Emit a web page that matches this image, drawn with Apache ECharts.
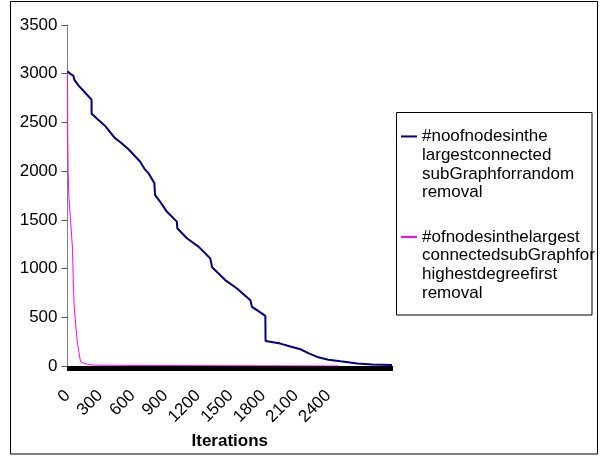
<!DOCTYPE html>
<html>
<head>
    <meta charset="utf-8">
    <title>Largest connected subgraph</title>
    <script src="https://cdn.jsdelivr.net/npm/echarts@6.0.0/dist/echarts.min.js"></script>
    <style>
        body { margin: 0; background: #fff; }
        #chart-container { width: 600px; height: 456px; }
    </style>
</head>
<body>
<div id="chart-container"></div>
<script>
    const chartDom = document.getElementById('chart-container');
    const myChart = echarts.init(chartDom);

    // values: [iteration, nodes]
    const randomRemoval = [
        [0, 3025], [30, 2995], [55, 2978], [62, 2940], [100, 2880], [150, 2820],
        [221, 2734], [222, 2590], [280, 2530], [344, 2467], [436, 2340], [500, 2285],
        [559, 2227], [667, 2099], [714, 2015], [744, 1980], [799, 1877], [805, 1757],
        [851, 1688], [913, 1585], [1006, 1482], [1010, 1414], [1098, 1311], [1205, 1225],
        [1221, 1208], [1313, 1105], [1330, 1013], [1390, 950], [1451, 882], [1559, 796],
        [1682, 676], [1697, 607], [1760, 560], [1820, 515], [1822, 257], [1958, 230],
        [2050, 200], [2143, 172], [2220, 130], [2297, 93], [2400, 65], [2512, 48],
        [2666, 25], [2800, 15], [2985, 10]
    ];
    const highestDegreeRemoval = [
        [0, 3020], [1, 2700], [3, 2300], [6, 2000], [12, 1750], [30, 1465], [46, 1208],
        [52, 916], [61, 625], [77, 401], [92, 230], [107, 128], [120, 41], [160, 25],
        [206, 12], [300, 8], [575, 6], [580, 0], [2494, 0]
    ];
    const seriesNames = [
        '#noofnodesinthe largestconnected subGraphforrandom removal',
        '#ofnodesinthelargest connectedsubGraphfor highestdegreefirst removal'
    ];
    const xLabelMax = 2400;

    const font = "'Liberation Sans', Arial, sans-serif";

    const option = {
        animation: false,
        backgroundColor: '#fff',
        grid: { left: 67.5, right: 208, top: 25, bottom: 90 },
        xAxis: {
            type: 'value',
            min: 0,
            max: 2985,
            interval: 300,
            name: 'Iterations',
            nameLocation: 'middle',
            nameGap: 63,
            nameTextStyle: { fontFamily: font, fontSize: 17, fontWeight: 'bold', color: '#000' },
            axisLine: { lineStyle: { color: '#808080', width: 1 } },
            axisTick: { show: true, length: 5, lineStyle: { color: '#000' } },
            minorTick: { show: true, splitNumber: 60, length: 5, lineStyle: { color: '#000', width: 1 } },
            splitLine: { show: false },
            axisLabel: {
                rotate: 45,
                margin: 27,
                showMaxLabel: false,
                fontFamily: font,
                fontSize: 17,
                color: '#000',
                formatter: v => (v % 300 === 0 && v <= xLabelMax) ? String(v) : ''
            }
        },
        yAxis: {
            type: 'value',
            min: 0,
            max: 3500,
            interval: 500,
            axisLine: { show: true, lineStyle: { color: '#808080', width: 1 } },
            axisTick: { show: true, length: 6, lineStyle: { color: '#555' } },
            splitLine: { show: false },
            axisLabel: {
                margin: 10, fontFamily: font, fontSize: 17, color: '#000',
                formatter: v => String(v)
            }
        },
        legend: {
            orient: 'vertical',
            left: 401,
            top: 71,
            padding: 0,
            icon: 'rect',
            itemWidth: 16,
            itemHeight: 2,
            itemGap: -30.4,
            itemStyle: { borderWidth: 0 },
            textStyle: { fontFamily: font, fontSize: 17, lineHeight: 18.7, color: '#000' },
            // blank lines in front keep the icon beside the first line of text
            formatter: name => '\n\n\n' + name.split(' ').join('\n')
        },
        graphic: [
            {
                type: 'rect', z: 100, silent: true,
                shape: { x: 396.5, y: 112.5, width: 195.5, height: 202.5 },
                style: { fill: 'none', stroke: '#000', lineWidth: 1 }
            },
            {
                type: 'rect', z: 101, silent: true,
                shape: { x: 597.5, y: 0, width: 3, height: 456 },
                style: { fill: '#fff' }
            },
            {
                type: 'rect', z: 102, silent: true,
                shape: { x: 10.5, y: 1.5, width: 587, height: 452.5 },
                style: { fill: 'none', stroke: '#000', lineWidth: 1 }
            }
        ],
        series: [
            {
                name: seriesNames[0],
                type: 'line',
                data: randomRemoval,
                symbol: 'none',
                color: '#000080',
                lineStyle: { color: '#000080', width: 2 },
                z: 3
            },
            {
                name: seriesNames[1],
                type: 'line',
                data: highestDegreeRemoval,
                symbol: 'none',
                color: '#ff00ff',
                lineStyle: { color: '#ff00ff', width: 1 },
                z: 2
            }
        ]
    };

    myChart.setOption(option);
</script>
</body>
</html>
